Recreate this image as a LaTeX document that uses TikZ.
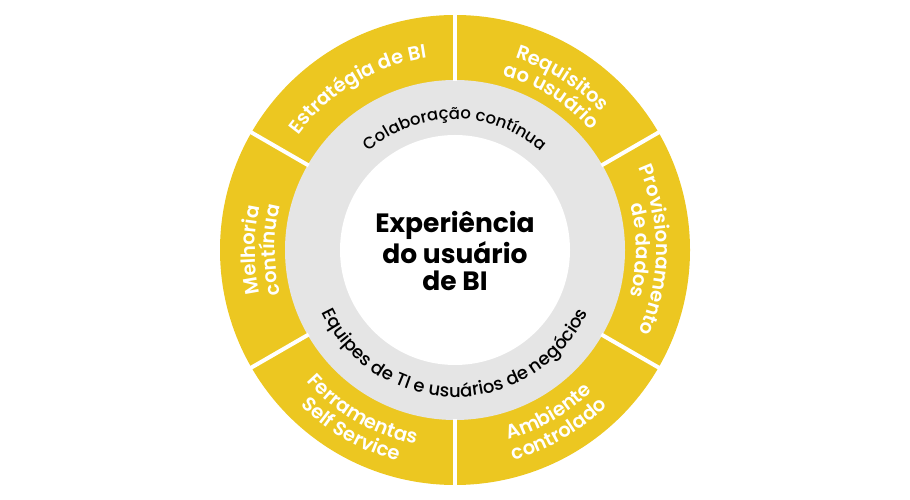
\documentclass[tikz,border=0pt]{standalone}
\usepackage{fontspec}
\setmainfont{Poppins}
\IfFontExistsTF{Poppins Medium}{\newfontfamily\pmedium{Poppins Medium}}{\newfontfamily\pmedium{Poppins}}
\IfFontExistsTF{Poppins SemiBold}{\newfontfamily\psemi{Poppins SemiBold}}{\newfontfamily\psemi{Poppins}[UprightFont=*Bold]}
\usetikzlibrary{decorations.text}
\definecolor{biyellow}{RGB}{236,199,33}
\definecolor{bigray}{RGB}{229,229,229}
\newcommand{\ringfnt}{\pmedium\fontsize{16.5}{18}\selectfont}
\newcommand{\ringfntb}{\pmedium\fontsize{18}{18}\selectfont}
\newcommand{\segfnt}{\psemi\fontsize{19.5}{22}\selectfont}
\newcommand{\ctrfnt}{\fontsize{26.5}{27}\bfseries\selectfont}
% clockwise arc text (tops outward): center angle, radius, text
\newcommand{\cwtext}[4][black]{%
  \path[decorate, decoration={text along path, text align=center, text color=#1, text={#4}}]
    ({#2+85}:#3) arc[start angle={#2+85}, end angle={#2-85}, radius=#3];}
% counter-clockwise arc text (tops inward)
\newcommand{\ccwtext}[4][black]{%
  \path[decorate, decoration={text along path, text align=center, text color=#1, text={#4}}]
    ({#2-85}:#3) arc[start angle={#2-85}, end angle={#2+85}, radius=#3];}
\begin{document}
\begin{tikzpicture}[x=1pt,y=1pt,
  sepline/.style={draw=white, line width=4pt}]
\useasboundingbox (0,0) rectangle (910,500);
\begin{scope}[shift={(455,250)}]
  \fill[biyellow] (0,0) circle[radius=235];
  \fill[bigray] (0,0) circle[radius=170];
  \fill[white] (0,0) circle[radius=115];
  \foreach \a in {30,90,150,210,270,330}
    \draw[sepline] (\a:169) -- (\a:238);
  \node[align=center, font=\ctrfnt, text=black, inner sep=0pt] (ctr) at (0,-1)
    {Experiência\\do usuário\\de BI};
  % ring texts
  \cwtext{90}{131}{|\ringfnt|Colaboração contínua}
  \ccwtext{270}{147}{|\ringfntb|Equipes de TI e usuários de negócios}
  % segment texts
  \cwtext[white]{121}{194}{|\segfnt|Estratégia de BI}
  \cwtext[white]{58}{201}{|\segfnt|Requisitos}
  \cwtext[white]{58}{181}{|\segfnt|ao usuário}
  \cwtext[white]{0}{201}{|\segfnt|Provisionamento}
  \cwtext[white]{0}{181}{|\segfnt|de dados}
  \cwtext[white]{180}{200}{|\segfnt|Melhoria}
  \cwtext[white]{180}{180}{|\segfnt|contínua}
  \ccwtext[white]{240}{198}{|\segfnt|Ferramentas}
  \ccwtext[white]{240}{219}{|\segfnt|Self Service}
  \ccwtext[white]{300}{197}{|\segfnt|Ambiente}
  \ccwtext[white]{300}{218}{|\segfnt|controlado}
\end{scope}
\end{tikzpicture}
\end{document}
